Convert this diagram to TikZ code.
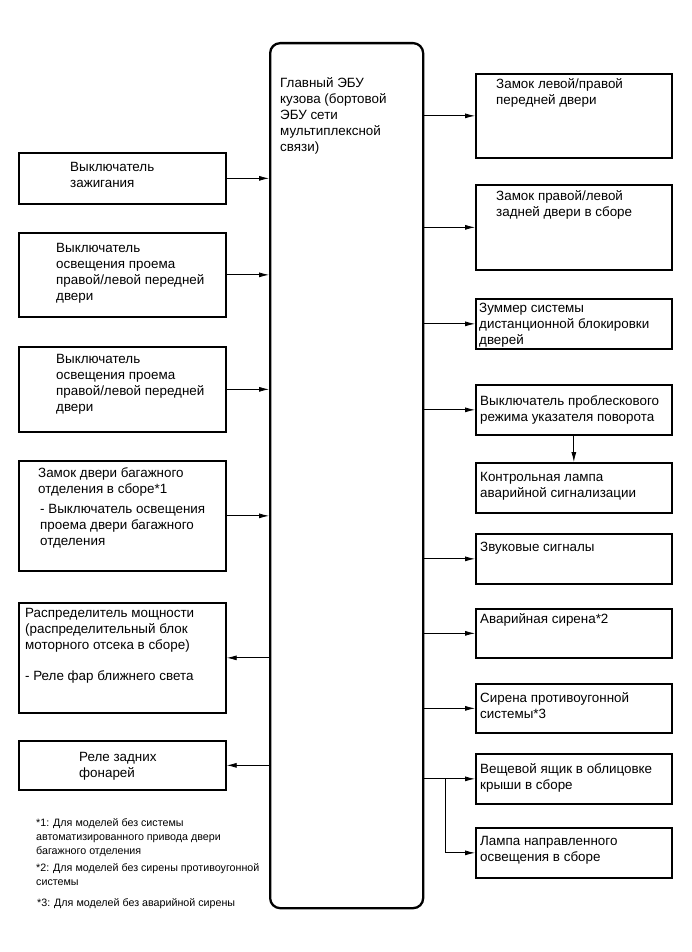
\documentclass[tikz,border=0pt]{standalone}
\usepackage{fontspec}
\setmainfont{Liberation Sans}
\usetikzlibrary{arrows.meta}
\tikzset{
  box/.style={draw, line width=1.7pt, inner sep=0pt, anchor=north west},
  lbox/.style={box, minimum width=207pt},
  rbox/.style={box, minimum width=196pt},
  txt/.style={inner sep=0pt, anchor=north west, align=left, font=\fontsize{13.4}{16}\selectfont},
  fn/.style={inner sep=0pt, anchor=north west, align=left, font=\fontsize{10.7}{14.2}\selectfont},
  arr/.style={line width=0.8pt, -{Latex[length=10pt,width=5pt]}},
  con/.style={line width=0.8pt}
}
\begin{document}
\begin{tikzpicture}[x=1pt,y=-1pt]
\useasboundingbox (0,0) rectangle (691,952);
% main ECU
\node[draw, line width=2.3pt, rounded corners=10pt, minimum width=153pt, minimum height=865pt, inner sep=0pt, anchor=north west] (ecu) at (269,42) {};
\node[txt] (ecut) at (280,77) {Главный ЭБУ\\кузова (бортовой\\ЭБУ сети\\мультиплексной\\связи)};
% left boxes
\node[lbox, minimum height=51pt] (l1) at (18,152) {};
\node[lbox, minimum height=84pt] (l2) at (18,232) {};
\node[lbox, minimum height=85pt] (l3) at (18,346) {};
\node[lbox, minimum height=110pt] (l4) at (18,460) {};
\node[lbox, minimum height=110pt] (l5) at (18,602) {};
\node[lbox, minimum height=49pt] (l6) at (18,740) {};
\node[txt] (l1t) at (70,162) {Выключатель\\зажигания};
\node[txt] (l2t) at (56,243) {Выключатель\\освещения проема\\правой/левой передней\\двери};
\node[txt] (l3t) at (56,354) {Выключатель\\освещения проема\\правой/левой передней\\двери};
\node[txt] (l4t) at (38,467) {Замок двери багажного\\отделения в сборе*1\\[4pt]\hspace*{2pt}- Выключатель освещения\\\hspace*{2pt}проема двери багажного\\\hspace*{2pt}отделения};
\node[txt] (l5t) at (25,608) {Распределитель мощности\\(распределительный блок\\моторного отсека в сборе)\\[15pt]- Реле фар ближнего света};
\node[txt] (l6t) at (79,752) {Реле задних\\фонарей};
% right boxes
\node[rbox, minimum height=84pt] (r1) at (475,73) {};
\node[rbox, minimum height=85pt] (r2) at (475,184) {};
\node[rbox, minimum height=50pt] (r3) at (475,298) {};
\node[rbox, minimum height=50pt] (r4) at (475,384) {};
\node[rbox, minimum height=50pt] (r5) at (475,462) {};
\node[rbox, minimum height=50pt] (r6) at (475,533) {};
\node[rbox, minimum height=49pt] (r7) at (475,608) {};
\node[rbox, minimum height=49pt] (r8) at (475,683) {};
\node[rbox, minimum height=50pt] (r9) at (475,753) {};
\node[rbox, minimum height=50pt] (r10) at (475,827) {};
\node[txt] (r1t) at (496,78) {Замок левой/правой\\передней двери};
\node[txt] (r2t) at (496,190) {Замок правой/левой\\задней двери в сборе};
\node[txt] (r3t) at (479,303) {Зуммер системы\\дистанционной блокировки\\дверей};
\node[txt] (r4t) at (480,395) {Выключатель проблескового\\режима указателя поворота};
\node[txt] (r5t) at (480,472) {Контрольная лампа\\аварийной сигнализации};
\node[txt] (r6t) at (480,542) {Звуковые сигналы};
\node[txt] (r7t) at (480,613) {Аварийная сирена*2};
\node[txt] (r8t) at (480,692) {Сирена противоугонной\\системы*3};
\node[txt] (r9t) at (480,763) {Вещевой ящик в облицовке\\крыши в сборе};
\node[txt] (r10t) at (480,836) {Лампа направленного\\освещения в сборе};
% footnotes
\node[fn] (f1) at (36,818) {*1: Для моделей без системы\\автоматизированного привода двери\\багажного отделения};
\node[fn] (f2) at (36,863) {*2: Для моделей без сирены противоугонной\\системы};
\node[fn] (f3) at (37,898) {*3: Для моделей без аварийной сирены};
% inputs
\foreach \n in {l1,l2,l3,l4} \draw[arr] (\n.east) -- (\n.east -| ecu.west);
\foreach \n in {l5,l6} \draw[arr] (\n.east -| ecu.west) -- (\n.east);
% outputs
\foreach \n in {r1,r2,r3,r4,r6,r7,r8,r9} \draw[arr] (\n.west -| ecu.east) -- (\n.west);
\draw[arr] (r4.south) -- (r5.north);
\path (r9.west) -- ++(-30,0) coordinate (j);
\draw[arr] (j) |- (r10.west);
\end{tikzpicture}
\end{document}
